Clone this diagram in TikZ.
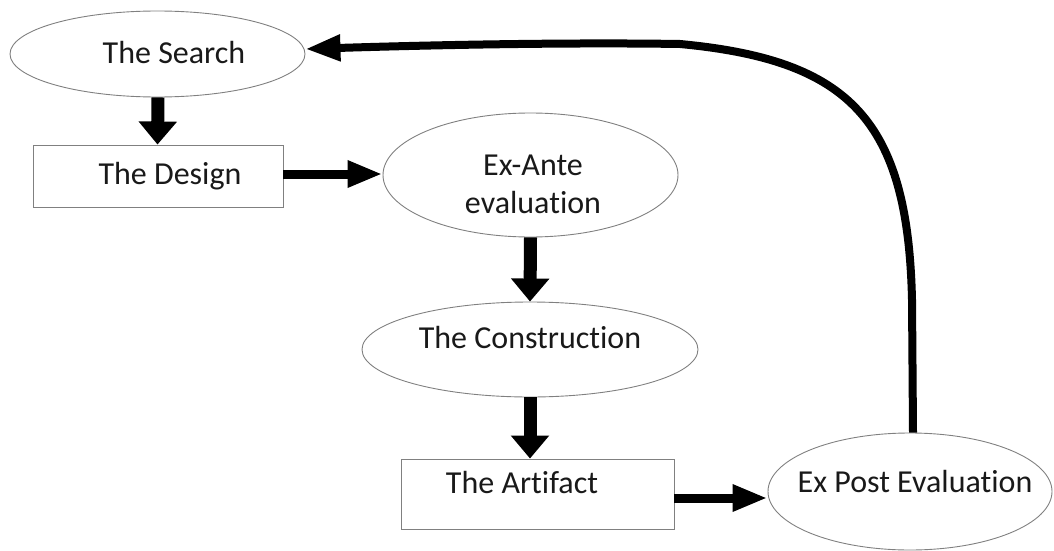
\documentclass[tikz,border=0pt]{standalone}
\usepackage{fontspec}
\setmainfont{Carlito}[Ligatures={NoCommon}]
\usetikzlibrary{shapes.geometric,arrows.meta,calc}
\begin{document}
\begin{tikzpicture}[x=1pt,y=-1pt,
  every node/.style={font=\fontsize{32pt}{38pt}\selectfont, text=black!90},
  oval/.style={ellipse, draw=black!50, line width=0.9pt, inner sep=0pt},
  boxnode/.style={rectangle, draw=black!50, line width=0.9pt, inner sep=0pt},
  txt/.style={anchor=center},
  vflow/.style={line width=13pt, -{Triangle[length=23pt,width=37pt]}},
  hflow/.style={line width=9pt, -{Triangle[length=35pt,width=25pt]}},
  backflow/.style={line width=8pt, {Triangle[length=35pt,width=25pt]}-}
]
\useasboundingbox (0,0) rectangle (1054,551);

\node[oval, minimum width=295pt, minimum height=86pt,
  label={[txt, xshift=16.5pt, yshift=1pt]center:The Search}] (search) at (157.5,54) {};
\node[boxnode, minimum width=250pt, minimum height=62pt,
  label={[txt, xshift=12pt, yshift=0pt]center:The Design}] (design) at (158,176) {};
\node[oval, minimum width=295pt, minimum height=124pt,
  label={[txt, xshift=2.5pt, yshift=10pt]center:Ex-Ante},
  label={[txt, xshift=2.5pt, yshift=-28pt]center:evaluation}] (exante) at (530.5,175) {};
\node[oval, minimum width=336pt, minimum height=95pt,
  label={[txt, xshift=0pt, yshift=11.5pt]center:The Construction}] (construction) at (530,349.5) {};
\node[boxnode, minimum width=273pt, minimum height=70pt,
  label={[txt, xshift=-15.5pt, yshift=11pt]center:The Artifact}] (artifact) at (537.5,494) {};
\node[oval, minimum width=284pt, minimum height=117pt,
  label={[txt, xshift=5pt, yshift=9.5pt]center:Ex Post Evaluation}] (expost) at (910,491.5) {};

\draw[vflow] ([xshift=0.5pt]search.south) -- (search.south |- design.north);
\draw[hflow] ([yshift=2pt]design.east) -- ([yshift=2pt]design.east -| exante.west);
\draw[vflow] (exante.south) -- (construction.north);
\draw[vflow] (construction.south) -- (construction.south |- artifact.north);
\draw[hflow] ([yshift=-4pt]artifact.east) -- ([yshift=-4pt]artifact.east -| expost.west);
\draw[backflow] ([yshift=5pt]search.east) .. controls (400,46) and (550,42) .. (680,44)
  .. controls (850,60) and (908,120) .. (912,300) -- ([xshift=3pt]expost.north);
\end{tikzpicture}
\end{document}
